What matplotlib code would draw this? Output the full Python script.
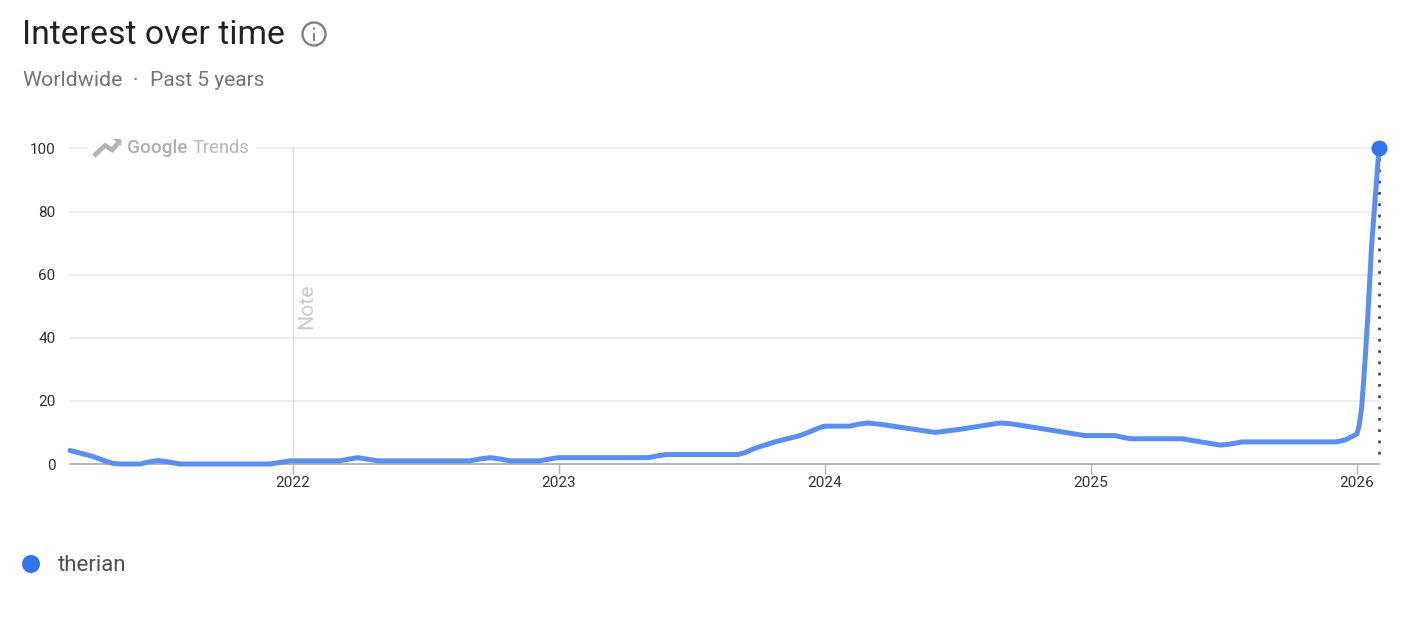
import matplotlib
matplotlib.use("Agg")
import matplotlib.pyplot as plt
from matplotlib.lines import Line2D
from matplotlib.patches import Circle

W, H = 1414, 621
plt.rcParams['font.family'] = ['Roboto', 'DejaVu Sans']

years = [2021.162, 2021.244, 2021.293, 2021.323, 2021.350, 2021.425, 2021.455, 2021.492, 2021.530,
         2021.575, 2021.914, 2021.951, 2021.989, 2022.177, 2022.207, 2022.244, 2022.282, 2022.320,
         2022.665, 2022.703, 2022.741, 2022.778, 2022.816, 2022.929, 2022.959, 2022.996, 2023.335,
         2023.365, 2023.402, 2023.673, 2023.699, 2023.737, 2023.812, 2023.906, 2023.951, 2023.989,
         2024.005, 2024.094, 2024.124, 2024.162, 2024.207, 2024.414, 2024.508, 2024.658, 2024.695, 2024.808,
         2024.977, 2025.090, 2025.147, 2025.342, 2025.485, 2025.515, 2025.568, 2025.921, 2025.955,
         2026.000, 2026.009, 2026.018, 2026.030, 2026.041, 2026.055, 2026.083]
interest = [4.3, 2.5, 1.0, 0.2, 0, 0, 0.6, 1.1, 0.7,
            0, 0, 0.5, 1, 1, 1.5, 2, 1.5, 1,
            1, 1.6, 2, 1.6, 1, 1, 1.5, 2, 2,
            2.5, 3, 3, 3.6, 5, 7, 9, 10.5, 11.8,
            12, 12, 12.6, 13, 12.6, 10, 11, 13, 12.8, 11.3,
            9, 9, 8, 8, 6, 6.2, 7, 7, 7.6,
            9.5, 12.5, 18, 32, 47, 69, 100]
y_ticks = [0, 20, 40, 60, 80, 100]
x_ticks = [2022, 2023, 2024, 2025, 2026]
series_name = "therian"
title = "Interest over time"
subtitle = "Worldwide"
subtitle2 = "Past 5 years"

fig = plt.figure(figsize=(W / 100, H / 100), dpi=100, facecolor="white")
L, R, T, B = 70, 1379, 148.5, 464
ax = fig.add_axes([L / W, 1 - B / H, (R - L) / W, (B - T) / H])
ax.set_xlim(2021.162, 2026.083)
ax.set_ylim(0, 100)
for s in ax.spines.values():
    s.set_visible(False)
ax.spines['bottom'].set_visible(True)
ax.spines['bottom'].set_color("#a6a6a6")
ax.spines['bottom'].set_linewidth(1.1)

ax.set_yticks(y_ticks)
ax.set_xticks(x_ticks)
ax.set_xticklabels([str(v) for v in x_ticks])
ax.tick_params(axis='y', length=0, pad=10.5, labelsize=11, labelcolor="#333333")
ax.tick_params(axis='x', length=7, width=1, color="#b5b5b5", pad=1.5, labelsize=11, labelcolor="#333333")
ax.grid(axis='y', color="#e9e9e9", lw=1.1)
ax.set_axisbelow(True)
for gl in ax.get_ygridlines():
    gl.set_clip_on(False)

ax.axvline(2022, color="#dddddd", lw=1.0, zorder=1)
ax.text(2022.0 + 14 / 266, 50, "Note", rotation=90, ha="center", va="center",
        fontsize=15.3, color="#cacaca")

ax.plot([years[-1], years[-1]], [3.3, 97], color="#3c4043", lw=1.9,
        linestyle=(0, (1, 3.28)), dash_capstyle="butt", zorder=3, clip_on=False)
ax.plot(years, interest, color="#5a8ff1", lw=3.6, solid_joinstyle="round",
        solid_capstyle="round", zorder=4, clip_on=False)
ax.plot([years[-1]], [interest[-1]], "o", color="#3373ee", ms=11.5, mew=0, zorder=5, clip_on=False)


def px(x, y):
    return x / W, 1 - y / H


fig.patches.append(plt.Rectangle(px(88, 158), 168 / W, 20 / H, transform=fig.transFigure,
                                 facecolor="white", edgecolor="none", zorder=3))
logo_x = [95.5, 105, 112, 119]
logo_y = [154.5, 145.5, 150, 142]
fig.add_artist(Line2D([x / W for x in logo_x], [1 - y / H for y in logo_y], color="#b3b3b3",
                      lw=3.4, solid_joinstyle="miter", zorder=4))
fig.add_artist(plt.Polygon([px(113, 139), px(120.5, 139), px(120.5, 146.5)], transform=fig.transFigure,
                           facecolor="#b3b3b3", edgecolor="none", zorder=4))
fig.text(*px(127, 148), "Google", fontsize=13.7, color="#b0b0b0", weight="medium", va="center", zorder=5)
fig.text(*px(192.5, 148), "Trends", fontsize=13.2, color="#b8b8b8", va="center", zorder=5)

fig.text(*px(22, 35.5), title, fontsize=24.3, color="#202124", va="center", ha="left")
fig.text(*px(22, 81), subtitle, fontsize=15.4, color="#757575", va="center", ha="left")
fig.text(*px(133, 80), "·", fontsize=15, color="#757575", va="center", ha="left")
fig.text(*px(149.5, 81), subtitle2, fontsize=15, color="#757575", va="center", ha="left")

ax_fig = fig.add_axes([0, 0, 1, 1], facecolor="none")
ax_fig.set_xlim(0, W)
ax_fig.set_ylim(H, 0)
ax_fig.axis("off")
ax_fig.add_patch(Circle((314, 34), 11.5, facecolor="none", edgecolor="#808080", lw=1.7))
ax_fig.add_patch(Circle((314, 28.5), 1.2, facecolor="#808080", edgecolor="none"))
ax_fig.plot([314, 314], [32.5, 40.5], color="#808080", lw=1.4, solid_capstyle="butt")
ax_fig.add_patch(Circle((31, 564), 9, facecolor="#3373ee", edgecolor="none"))
ax_fig.text(58, 565.5, series_name, fontsize=16, color="#505050", va="center", ha="left")

fig.savefig("out.png", dpi=100)
